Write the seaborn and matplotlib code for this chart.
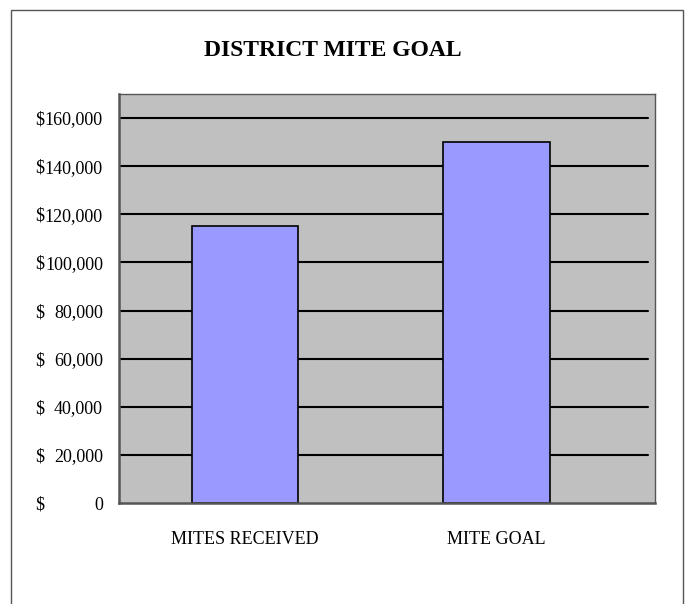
import matplotlib
matplotlib.use("Agg")
import matplotlib.pyplot as plt
import matplotlib.transforms as mtransforms
from matplotlib.patches import Rectangle
import seaborn as sns

categories = ["MITES RECEIVED", "MITE GOAL"]
amounts = [115000, 150000]
tick_values = [0, 20000, 40000, 60000, 80000, 100000, 120000, 140000, 160000]
title = "DISTRICT MITE GOAL"

sns.set_style("white")
plt.rcParams["font.family"] = ["Liberation Serif", "DejaVu Serif"]
plt.rcParams["text.color"] = "black"
plt.rcParams["xtick.color"] = "black"
plt.rcParams["ytick.color"] = "black"

fig = plt.figure(figsize=(6.85, 6.04), dpi=100)
ax = fig.add_axes([119 / 685, 101 / 604, 536 / 685, 409 / 604])
ax.set_facecolor("#C0C0C0")

# horizontal gridlines stop a little short of the right edge, like Excel
for v in tick_values[1:]:
    ax.axhline(v, xmin=0, xmax=0.987, color="black", lw=1.5, zorder=1)

sns.barplot(x=categories, y=amounts, color="#9999FF", saturation=1,
            edgecolor="black", linewidth=1.2, width=0.425, ax=ax, zorder=2)

ax.set_ylim(0, 170000)
ax.set_xlim(-0.501, 1.630)
ax.set_xlabel("")
ax.set_ylabel("")

ax.set_yticks(tick_values)
ax.set_yticklabels([f"{v:,}" for v in tick_values], fontsize=13)
ax.tick_params(axis="y", length=0, pad=11.5)
ax.tick_params(axis="x", length=0, pad=20, labelsize=13)

# accounting style: "$" pinned at the left, number right aligned
trans = mtransforms.blended_transform_factory(fig.transFigure, ax.transData)
for v in tick_values:
    ax.text(35 / 685, v, "$", transform=trans, ha="left",
            va="center_baseline", fontsize=13, clip_on=False)

for side in ["top", "right"]:
    ax.spines[side].set_color("#555555")
    ax.spines[side].set_linewidth(1.0)
for side in ["left", "bottom"]:
    ax.spines[side].set_color("#555555")
    ax.spines[side].set_linewidth(1.8)

fig.text(333 / 685, 1 - 50 / 604, title, ha="center", va="center",
         fontsize=17, fontweight="bold")

# outer chart border
fig.patches.append(Rectangle((11 / 685, -0.05), 672 / 685, 1.05 - 10 / 604,
                             transform=fig.transFigure, fill=False,
                             edgecolor="#555555", lw=1.0))

fig.savefig("out.png", dpi=100)
